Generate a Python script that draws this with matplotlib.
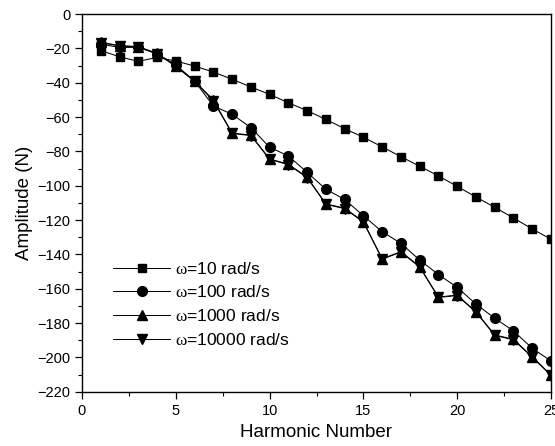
import matplotlib
matplotlib.use("Agg")
import matplotlib.pyplot as plt
from matplotlib.ticker import MultipleLocator

plt.rcParams['font.family'] = ['Liberation Sans', 'DejaVu Sans']
plt.rcParams['mathtext.fontset'] = 'custom'
plt.rcParams['mathtext.rm'] = 'Liberation Serif'

harmonic = list(range(1, 26))

amp_w10 = [-21.3, -24.9, -27.6, -25.3, -27.4, -30.3, -33.8, -38.0, -42.5, -46.8,
           -51.7, -56.3, -61.4, -66.8, -71.8, -77.4, -83.1, -88.7, -94.3, -100.4,
           -106.6, -112.6, -118.8, -125.2, -131.2]
amp_w100 = [-17.5, -19.5, -19.4, -23.3, -29.7, -39.0, -53.6, -58.4, -66.2, -77.6,
            -82.7, -92.2, -102.1, -108.0, -117.5, -126.8, -133.6, -143.3, -151.8, -159.2,
            -169.0, -177.2, -184.6, -194.7, -202.1]
amp_w1000 = [-16.5, -18.4, -19.0, -22.9, -30.3, -39.0, -50.0, -69.4, -70.5, -84.4,
             -87.5, -95.0, -110.6, -113.1, -120.9, -142.6, -138.4, -147.1, -164.9, -163.7,
             -173.4, -186.9, -189.5, -199.6, -210.3]
amp_w10000 = [-16.7, -18.6, -19.2, -23.1, -30.5, -39.3, -50.6, -69.6, -70.8, -84.6,
              -87.8, -95.3, -110.8, -113.4, -121.2, -142.8, -138.7, -147.4, -165.1, -164.0,
              -173.7, -187.2, -189.8, -199.9, -210.5]

labels = [r'$\mathrm{\omega}$=10 rad/s', r'$\mathrm{\omega}$=100 rad/s',
          r'$\mathrm{\omega}$=1000 rad/s', r'$\mathrm{\omega}$=10000 rad/s']

fig = plt.figure(figsize=(5.55, 4.46), dpi=100)
ax = fig.add_axes([82 / 555, 1 - 391.7 / 446, 469 / 555, (391.7 - 14) / 446])

lw = 0.75
ax.plot(harmonic, amp_w10, marker='s', markersize=6.2, color='black', linewidth=lw,
        label=labels[0])
ax.plot(harmonic, amp_w100, marker='o', markersize=7, color='black', linewidth=lw,
        label=labels[1])
ax.plot(harmonic, amp_w1000, marker='^', markersize=7, color='black', linewidth=lw,
        label=labels[2])
ax.plot(harmonic, amp_w10000, marker='v', markersize=7, color='black', linewidth=lw,
        label=labels[3])

ax.set_xlim(0, 25)
ax.set_ylim(-220, 0)
ax.xaxis.set_major_locator(MultipleLocator(5))
ax.xaxis.set_minor_locator(MultipleLocator(2.5))
ax.yaxis.set_major_locator(MultipleLocator(20))
ax.yaxis.set_minor_locator(MultipleLocator(10))
ax.tick_params(which='major', direction='out', length=5, width=0.9, labelsize=10.5,
               top=False, right=False)
ax.tick_params(which='minor', direction='out', length=3, width=0.8,
               top=False, right=False)
for s in ax.spines.values():
    s.set_linewidth(1.0)

ax.set_xlabel('Harmonic Number', fontsize=13.5, labelpad=5)
ax.set_ylabel('Amplitude (N)', fontsize=13.5, labelpad=3)

ax.legend(loc='upper left', bbox_to_anchor=(0.066, 0.347), frameon=False,
          fontsize=12.5, handlelength=3.3, handletextpad=0.25, labelspacing=0.45,
          borderpad=0, borderaxespad=0)

fig.savefig('out.png', dpi=100)
